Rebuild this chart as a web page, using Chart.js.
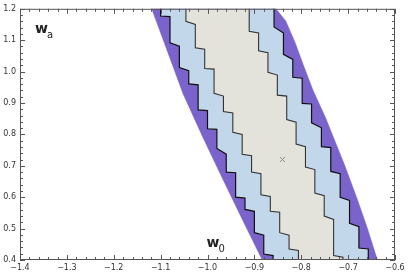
<!DOCTYPE html>
<html>
<head>
<meta charset="utf-8">
<script src="https://cdn.jsdelivr.net/npm/chart.js@4"></script>
<style>
  html, body { margin: 0; padding: 0; background: #fff; }
  canvas { display: block; }
</style>
</head>
<body>
<canvas id="contour" width="409" height="273"></canvas>
<script>
// contour vertices [w0, wa] (edges run past the frame and get clipped)
const purpleLeft = [[-1.131, 1.25], [-1.119, 1.2], [-1.052, 0.929], [-1.010, 0.791], [-0.967, 0.656], [-0.926, 0.530], [-0.884, 0.402], [-0.867, 0.35]];
const purpleRight = [[-0.870, 1.25], [-0.854, 1.2], [-0.833, 1.161], [-0.813, 1.092], [-0.796, 1.023], [-0.775, 0.941], [-0.749, 0.856], [-0.728, 0.778], [-0.707, 0.700], [-0.682, 0.600], [-0.660, 0.506], [-0.638, 0.402], [-0.630, 0.35]];

const blueLeft = [[-1.10, 1.25], [-1.10, 1.177], [-1.08, 1.175], [-1.08, 1.092], [-1.06, 1.081], [-1.06, 1.013], [-1.04, 1.003], [-1.04, 0.961], [-1.02, 0.958], [-1.02, 0.878], [-1.00, 0.876], [-1.00, 0.818], [-0.98, 0.816], [-0.98, 0.755], [-0.96, 0.737], [-0.96, 0.680], [-0.94, 0.678], [-0.94, 0.600], [-0.92, 0.597], [-0.92, 0.561], [-0.90, 0.555], [-0.90, 0.487], [-0.88, 0.479], [-0.88, 0.419], [-0.86, 0.414], [-0.86, 0.35]];
const blueRight = [[-0.858, 1.25], [-0.858, 1.142], [-0.838, 1.123], [-0.838, 1.055], [-0.818, 1.039], [-0.818, 0.982], [-0.798, 0.979], [-0.798, 0.899], [-0.778, 0.897], [-0.778, 0.837], [-0.757, 0.821], [-0.757, 0.761], [-0.737, 0.758], [-0.737, 0.682], [-0.717, 0.675], [-0.717, 0.600], [-0.697, 0.590], [-0.697, 0.517], [-0.677, 0.506], [-0.677, 0.438], [-0.657, 0.435], [-0.657, 0.35]];

const greyLeft = [[-1.046, 1.25], [-1.046, 1.16], [-1.026, 1.150], [-1.026, 1.076], [-1.006, 1.071], [-1.006, 1.010], [-0.986, 1.008], [-0.986, 0.931], [-0.966, 0.922], [-0.966, 0.873], [-0.946, 0.868], [-0.946, 0.807], [-0.926, 0.800], [-0.926, 0.737], [-0.906, 0.732], [-0.906, 0.680], [-0.886, 0.675], [-0.886, 0.608], [-0.866, 0.602], [-0.866, 0.555], [-0.846, 0.552], [-0.846, 0.487], [-0.826, 0.479], [-0.826, 0.435], [-0.806, 0.430], [-0.806, 0.35]];
const greyRight = [[-0.911, 1.25], [-0.911, 1.128], [-0.891, 1.123], [-0.891, 1.066], [-0.871, 1.060], [-0.871, 0.998], [-0.851, 0.989], [-0.851, 0.925], [-0.831, 0.922], [-0.831, 0.847], [-0.811, 0.839], [-0.811, 0.769], [-0.791, 0.761], [-0.791, 0.696], [-0.771, 0.688], [-0.771, 0.613], [-0.751, 0.605], [-0.751, 0.540], [-0.731, 0.529], [-0.731, 0.414], [-0.711, 0.409], [-0.711, 0.35]];

const bestFit = [-0.84, 0.72];

const xTicks = [-1.4, -1.3, -1.2, -1.1, -1.0, -0.9, -0.8, -0.7, -0.6];
const yTicks = [0.4, 0.5, 0.6, 0.7, 0.8, 0.9, 1.0, 1.1, 1.2];
const minorStep = 0.02;

// left edge top->bottom, then right edge bottom->top
function polygon(left, right) {
  return left.concat(right.slice().reverse()).map(p => ({ x: p[0], y: p[1] }));
}

function fmt(v) {
  return (v < 0 ? "\u2212" : "") + Math.abs(v).toFixed(1);
}

// frame, inward ticks and the w_a / w_0 labels
const framePlugin = {
  id: "frame",
  afterDatasetsDraw(chart) {
    const { ctx, chartArea: a, scales } = chart;
    const sx = scales.x, sy = scales.y;
    ctx.save();
    ctx.strokeStyle = "#555";
    ctx.lineWidth = 1;
    ctx.strokeRect(a.left + 0.5, a.top + 0.5, a.right - a.left - 1, a.bottom - a.top - 1);

    ctx.beginPath();
    for (let i = 0; i <= 40; i++) {
      const v = xTicks[0] + i * minorStep;
      const len = i % 5 === 0 ? 5 : 3;
      const px = Math.round(sx.getPixelForValue(v)) + 0.5;
      ctx.moveTo(px, a.bottom); ctx.lineTo(px, a.bottom - len);
      ctx.moveTo(px, a.top); ctx.lineTo(px, a.top + len);
    }
    for (let i = 0; i <= 40; i++) {
      const v = yTicks[0] + i * minorStep;
      const len = i % 5 === 0 ? 5 : 3;
      const py = Math.round(sy.getPixelForValue(v)) + 0.5;
      ctx.moveTo(a.left, py); ctx.lineTo(a.left + len, py);
      ctx.moveTo(a.right, py); ctx.lineTo(a.right - len, py);
    }
    ctx.stroke();

    ctx.fillStyle = "#222";
    ctx.textBaseline = "alphabetic";
    ctx.textAlign = "left";
    const label = (main, sub, x, y) => {
      const px = sx.getPixelForValue(x), py = sy.getPixelForValue(y);
      ctx.font = "bold 14px 'DejaVu Sans'";
      ctx.fillText(main, px, py);
      const w = ctx.measureText(main).width;
      ctx.font = "10px 'DejaVu Sans'";
      ctx.fillText(sub, px + w - 1, py + 5);
    };
    label("w", "a", -1.368, 1.123);
    label("w", "0", -1.002, 0.442);
    ctx.restore();
  }
};

const ctx = document.getElementById("contour").getContext("2d");
new Chart(ctx, {
  type: "scatter",
  data: {
    datasets: [
      {
        data: [{ x: bestFit[0], y: bestFit[1] }],
        pointStyle: "crossRot",
        pointRadius: 3.5,
        borderColor: "#8a8a8a",
        borderWidth: 1,
        order: 0
      },
      {
        data: polygon(greyLeft, greyRight),
        showLine: true,
        fill: "shape",
        backgroundColor: "#e3e3dc",
        borderColor: "#333",
        borderWidth: 1.1,
        pointRadius: 0,
        tension: 0,
        order: 1
      },
      {
        data: polygon(blueLeft, blueRight),
        showLine: true,
        fill: "shape",
        backgroundColor: "#c3d7ea",
        borderColor: "#111",
        borderWidth: 1.2,
        pointRadius: 0,
        tension: 0,
        order: 2
      },
      {
        data: polygon(purpleLeft, purpleRight),
        showLine: true,
        fill: "shape",
        backgroundColor: "#7b63cc",
        borderColor: "#7b63cc",
        borderWidth: 0.5,
        pointRadius: 0,
        tension: 0,
        order: 3
      }
    ]
  },
  options: {
    responsive: false,
    animation: false,
    devicePixelRatio: 1,
    layout: { padding: { top: 5, right: 14, left: 0, bottom: 0 } },
    plugins: {
      legend: { display: false },
      tooltip: { enabled: false }
    },
    scales: {
      x: {
        type: "linear",
        min: xTicks[0],
        max: xTicks[xTicks.length - 1],
        afterBuildTicks: s => { s.ticks = xTicks.map(v => ({ value: v })); },
        afterFit: s => { s.height = 13; },
        grid: { display: false, drawTicks: false },
        border: { display: false },
        ticks: {
          autoSkip: false,
          maxRotation: 0,
          padding: 3,
          color: "#333",
          font: { family: "DejaVu Sans", size: 8 },
          callback: v => fmt(v)
        }
      },
      y: {
        type: "linear",
        min: yTicks[0],
        max: yTicks[yTicks.length - 1],
        afterBuildTicks: s => { s.ticks = yTicks.map(v => ({ value: v })); },
        afterFit: s => { s.width = 20; },
        grid: { display: false, drawTicks: false },
        border: { display: false },
        ticks: {
          autoSkip: false,
          padding: 4,
          color: "#333",
          font: { family: "DejaVu Sans", size: 8 },
          callback: v => fmt(v)
        }
      }
    }
  },
  plugins: [framePlugin]
});
</script>
</body>
</html>
